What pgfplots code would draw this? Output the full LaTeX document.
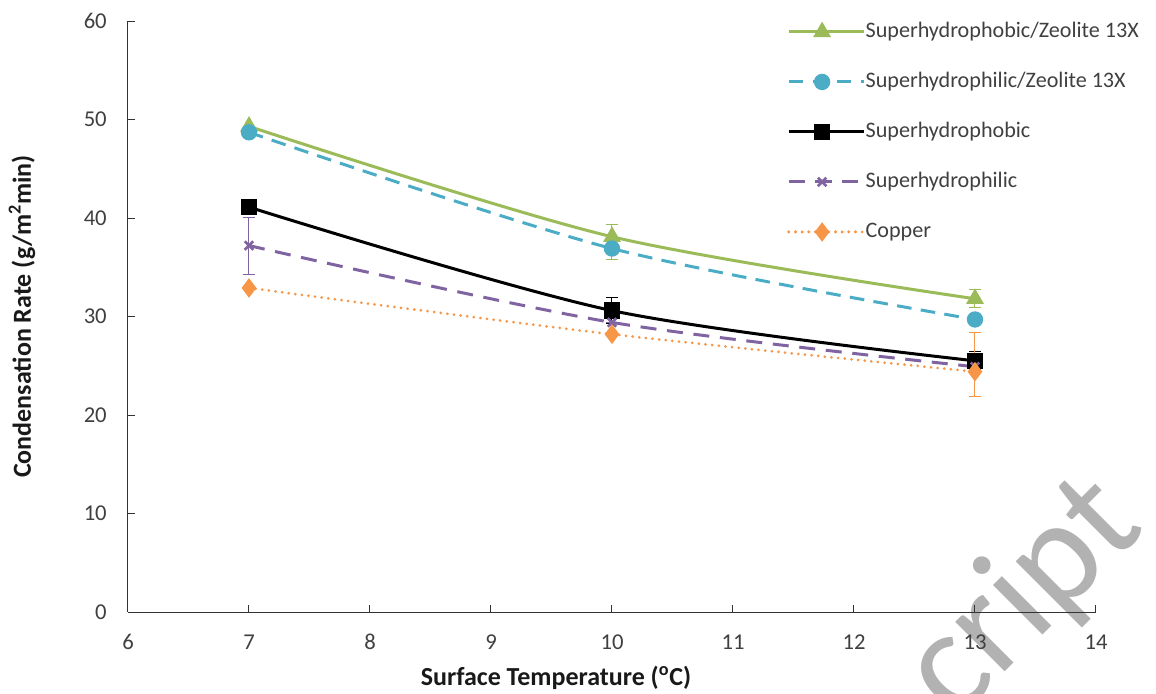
\documentclass[border=0pt]{standalone}
\usepackage{pgfplots}
\pgfplotsset{compat=1.18}
\usepackage{fontspec}
\setmainfont{Carlito}
\definecolor{cgreen}{HTML}{9BBB59}
\definecolor{cblue}{HTML}{4BACC6}
\definecolor{cpurple}{HTML}{8064A2}
\definecolor{corange}{HTML}{F79646}
\definecolor{ctext}{HTML}{404040}

\pgfplotstableread{
x y ep em
7 49.3 0 0
10 38.1 1.2 2.3
13 31.8 0.9 0.9
}\greendata
\pgfplotstableread{
x y ep em
7 48.7 0 0
10 36.9 0 0
13 29.7 0 0
}\bluedata
\pgfplotstableread{
x y ep em
7 41.1 0 0
10 30.6 1.3 1.3
13 25.5 0.9 0.9
}\blackdata
\pgfplotstableread{
x y ep em
7 37.2 2.9 2.9
10 29.4 0 0
13 24.9 0 0
}\purpledata
\pgfplotstableread{
x y ep em
7 32.9 0 0
10 28.2 0 0
13 24.4 4.0 2.5
}\orangedata

\begin{document}
\begin{tikzpicture}
\useasboundingbox (-96pt,-60.75pt) rectangle (771pt,459pt);
\node[rotate=45, text=black!30, font=\fontsize{110}{110}\selectfont] at (672pt,10pt) {cript};
\begin{axis}[
  scale only axis, width=726pt, height=443.25pt,
  xmin=6, xmax=14, ymin=0, ymax=60,
  xtick={6,...,14}, ytick={0,10,...,60},
  axis x line*=bottom, axis y line*=left,
  axis line style={-, line width=0.75pt, color=black!80},
  tick style={line width=0.75pt, color=black!80},
  tick align=inside, major tick length=5pt,
  /pgf/number format/assume math mode=true,
  ticklabel style={font=\fontsize{17}{19}\selectfont, text=ctext},
  xticklabel style={anchor=center, yshift=-22.5pt},
  yticklabel style={anchor=east, inner sep=0pt, xshift=-15.75pt},
  xlabel={Surface Temperature (\textsuperscript{o}C)},
  ylabel={Condensation Rate (g/m\textsuperscript{2}min)},
  label style={font=\bfseries\fontsize{19.5}{22}\selectfont, text=black!90},
  xlabel style={at={(rel axis cs:0.5,0)}, anchor=center, yshift=-49.5pt, xshift=-42pt},
  ylabel style={at={(rel axis cs:0,0.5)}, anchor=center, yshift=79.5pt},
  legend style={at={(rel axis cs:0.6808,1.0)}, anchor=north west, draw=none, fill=none,
    inner sep=0pt, font=\fontsize{16.6}{19}\selectfont, row sep=21.5pt,
    nodes={inner sep=0pt, text height=12pt, text depth=4pt, text=ctext}},
  legend cell align=left,
  legend image code/.code={%
    \draw[mark repeat=2, mark phase=2] plot coordinates {(0pt,0pt) (25pt,0pt) (50pt,0pt)};
    \path (0pt,0pt) -- (56.5pt,0pt);},
  error bars/y dir=both, error bars/y explicit,
  error bars/error mark=-,
  error bars/error mark options={line width=0.75pt, mark size=4.5pt, solid, rotate=90},
  error bars/error bar style={line width=0.75pt, solid},
  every axis plot/.append style={smooth, line width=2.25pt},
]
\addplot[cgreen, mark=triangle*, mark size=5.5pt, mark options={solid}]
  table[x=x, y=y, y error plus=ep, y error minus=em] {\greendata};
\addlegendentry{Superhydrophobic/Zeolite 13X}
\addplot[cblue, dash pattern=on 11pt off 7pt, mark=*, mark size=5pt, mark options={solid}]
  table[x=x, y=y, y error plus=ep, y error minus=em] {\bluedata};
\addlegendentry{Superhydrophilic/Zeolite 13X}
\addplot[black, mark=square*, mark size=5pt, mark options={solid}]
  table[x=x, y=y, y error plus=ep, y error minus=em] {\blackdata};
\addlegendentry{Superhydrophobic}
\addplot[cpurple, dash pattern=on 12pt off 8pt, mark=x, mark size=4.5pt, mark options={solid, line width=2pt}]
  table[x=x, y=y, y error plus=ep, y error minus=em] {\purpledata};
\addlegendentry{Superhydrophilic}
\addplot[corange, line cap=round, dash pattern=on 0pt off 5pt, mark=diamond*, mark size=5.5pt, mark options={solid}]
  table[x=x, y=y, y error plus=ep, y error minus=em] {\orangedata};
\addlegendentry{Copper}
\end{axis}
\end{tikzpicture}
\end{document}
